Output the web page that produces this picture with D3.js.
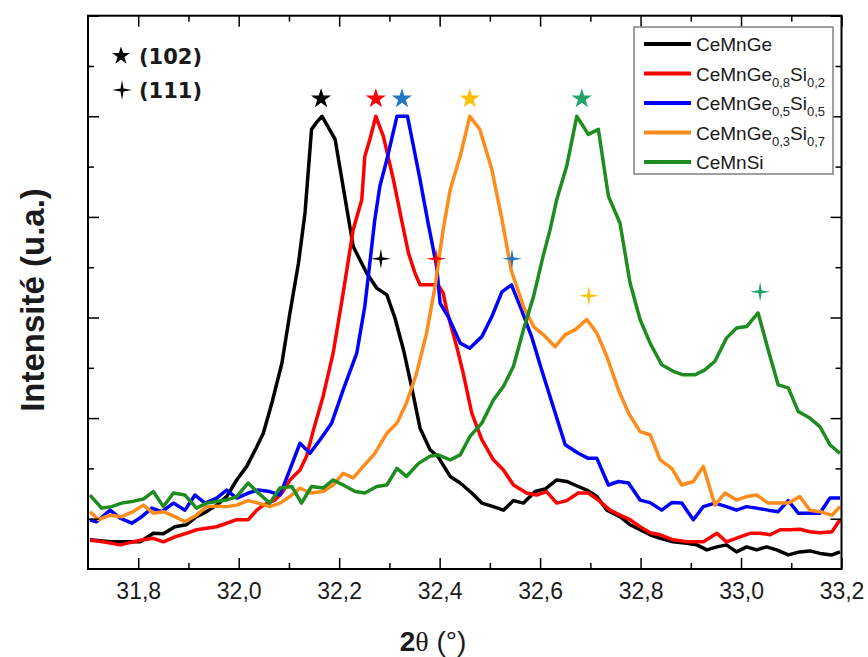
<!DOCTYPE html>
<html><head><meta charset="utf-8">
<script src="https://cdn.jsdelivr.net/npm/d3@7"></script>
<style>body{margin:0;background:#fff}svg{display:block}</style>
</head><body><svg id="c" width="868" height="657"></svg>
<script>
// ---- data (2θ in degrees, intensity in arbitrary units) ----
const xTicks = [31.8, 32.0, 32.2, 32.4, 32.6, 32.8, 33.0, 33.2];
const xMinorTicks = [31.9, 32.1, 32.3, 32.5, 32.7, 32.9, 33.1];
const yTicks = [100, 300, 500, 700, 900, 1100];
const yMinorTicks = [200, 400, 600, 800, 1000];
const seriesNames = ["CeMnGe", "CeMnGe0,8Si0,2", "CeMnGe0,5Si0,5", "CeMnGe0,3Si0,7", "CeMnSi"];

const cemnge = [[31.704,58],[31.744,54],[31.804,54],[31.830,71],[31.850,70],[31.873,84],[31.896,88],[31.916,104],[31.936,114],[31.956,127],[31.976,144],[31.996,177],[32.016,204],[32.036,243],[32.049,270],[32.066,330],[32.086,409],[32.102,509],[32.119,608],[32.132,708],[32.145,874],[32.155,888],[32.166,900],[32.192,854],[32.228,641],[32.255,588],[32.275,558],[32.295,545],[32.311,499],[32.328,436],[32.344,363],[32.361,280],[32.381,237],[32.397,223],[32.421,184],[32.441,171],[32.464,151],[32.484,131],[32.507,124],[32.527,117],[32.547,136],[32.567,131],[32.590,154],[32.610,159],[32.633,177],[32.653,174],[32.676,164],[32.693,157],[32.713,144],[32.733,117],[32.759,104],[32.779,88],[32.799,78],[32.819,68],[32.839,61],[32.865,54],[32.892,51],[32.912,48],[32.932,38],[32.952,44],[32.971,48],[32.991,34],[33.011,44],[33.031,38],[33.051,44],[33.071,38],[33.094,28],[33.117,34],[33.137,36],[33.157,31],[33.181,28],[33.197,34]];
const ge08si02 = [[31.704,57],[31.730,54],[31.764,48],[31.790,54],[31.810,58],[31.830,61],[31.850,54],[31.873,64],[31.896,71],[31.916,78],[31.936,81],[31.956,84],[31.976,91],[31.996,98],[32.019,98],[32.036,117],[32.049,127],[32.072,137],[32.086,151],[32.102,177],[32.122,197],[32.135,224],[32.149,277],[32.168,343],[32.188,429],[32.208,549],[32.228,675],[32.245,734],[32.251,820],[32.261,854],[32.273,900],[32.288,860],[32.308,774],[32.324,695],[32.338,628],[32.351,588],[32.361,565],[32.377,565],[32.397,565],[32.407,549],[32.414,515],[32.434,442],[32.447,389],[32.464,310],[32.484,257],[32.507,217],[32.527,197],[32.547,167],[32.573,151],[32.593,147],[32.613,154],[32.633,131],[32.653,136],[32.676,151],[32.696,151],[32.716,137],[32.739,117],[32.759,107],[32.779,98],[32.799,84],[32.819,72],[32.839,68],[32.865,58],[32.892,54],[32.925,54],[32.952,71],[32.971,54],[32.998,64],[33.018,71],[33.038,71],[33.058,68],[33.078,78],[33.098,78],[33.117,79],[33.137,74],[33.157,72],[33.181,74],[33.197,98]];
const ge05si05 = [[31.704,98],[31.717,94],[31.744,117],[31.764,101],[31.787,91],[31.807,104],[31.827,121],[31.847,114],[31.870,131],[31.893,117],[31.913,147],[31.933,131],[31.956,141],[31.976,157],[31.996,141],[32.019,151],[32.039,157],[32.062,154],[32.082,147],[32.099,190],[32.122,250],[32.142,230],[32.162,257],[32.185,290],[32.208,356],[32.235,429],[32.251,522],[32.261,608],[32.271,695],[32.281,761],[32.295,814],[32.315,900],[32.336,900],[32.348,840],[32.361,774],[32.377,688],[32.394,602],[32.401,528],[32.417,502],[32.441,449],[32.460,439],[32.484,462],[32.504,502],[32.524,551],[32.543,565],[32.563,515],[32.583,462],[32.603,396],[32.626,323],[32.650,247],[32.676,230],[32.696,220],[32.713,220],[32.736,167],[32.756,174],[32.776,171],[32.799,137],[32.819,132],[32.842,117],[32.862,132],[32.882,131],[32.905,98],[32.925,124],[32.948,131],[32.971,124],[32.991,117],[33.011,124],[33.031,121],[33.054,117],[33.074,114],[33.094,136],[33.114,111],[33.137,111],[33.157,111],[33.177,141],[33.197,141]];
const ge03si07 = [[31.704,114],[31.721,98],[31.744,107],[31.767,104],[31.790,114],[31.810,127],[31.830,111],[31.850,114],[31.873,104],[31.893,94],[31.916,107],[31.936,124],[31.956,125],[31.976,124],[31.996,127],[32.019,136],[32.039,131],[32.062,124],[32.082,131],[32.102,144],[32.122,161],[32.142,151],[32.168,154],[32.188,167],[32.208,190],[32.228,181],[32.248,204],[32.271,230],[32.295,270],[32.315,290],[32.334,330],[32.354,389],[32.374,469],[32.391,562],[32.407,675],[32.421,754],[32.441,821],[32.460,900],[32.480,874],[32.504,794],[32.524,695],[32.543,592],[32.567,522],[32.587,482],[32.606,466],[32.630,442],[32.650,466],[32.670,476],[32.693,496],[32.713,469],[32.733,422],[32.756,356],[32.776,310],[32.799,273],[32.819,267],[32.839,217],[32.862,200],[32.882,167],[32.905,174],[32.925,204],[32.948,127],[32.968,151],[32.991,137],[33.011,144],[33.031,147],[33.054,131],[33.074,131],[33.094,131],[33.117,144],[33.137,117],[33.157,114],[33.181,107],[33.197,124]];
const cemnsi = [[31.704,147],[31.727,121],[31.747,124],[31.767,131],[31.787,134],[31.810,139],[31.830,154],[31.850,124],[31.870,151],[31.893,147],[31.916,121],[31.936,131],[31.956,134],[31.976,137],[31.996,144],[32.019,171],[32.039,151],[32.062,131],[32.082,161],[32.106,164],[32.125,131],[32.145,164],[32.168,161],[32.188,177],[32.208,167],[32.232,154],[32.251,151],[32.275,164],[32.295,167],[32.315,200],[32.334,184],[32.358,210],[32.381,224],[32.397,227],[32.421,217],[32.441,227],[32.460,263],[32.484,290],[32.507,336],[32.527,363],[32.547,403],[32.567,476],[32.587,542],[32.606,622],[32.620,675],[32.633,734],[32.653,801],[32.673,900],[32.696,864],[32.716,874],[32.736,741],[32.759,688],[32.779,569],[32.799,496],[32.819,449],[32.842,406],[32.865,393],[32.885,386],[32.908,386],[32.928,396],[32.948,413],[32.971,459],[32.991,479],[33.011,482],[33.034,509],[33.054,436],[33.074,366],[33.094,360],[33.114,313],[33.137,300],[33.157,283],[33.177,247],[33.197,230]];

// (102) and (111) reflection markers [2θ, intensity]
const peaks102 = [[32.164,937],[32.273,937],[32.325,937],[32.460,937],[32.683,937]];
const peaks111 = [[32.283,617],[32.393,617],[32.544,617],[32.697,543],[33.038,551]];

const lineColors = ["#000000", "#ff0000", "#0000ff", "#ff8c1a", "#1e8c1e"];
const markColors = ["#000000", "#ff0000", "#1f78c1", "#ffc000", "#1fa56c"];
const allSeries = [cemnge, ge08si02, ge05si05, ge03si07, cemnsi];

// ---- layout ----
const svg = d3.select("#c");
const L = 88, R = 841.5, T = 15.7, B = 569;
const x = d3.scaleLinear().domain([31.7, 33.2]).range([L, R]);
const y = d3.scaleLinear().domain([0, 1100]).range([B, T]);
const FONT = "'Liberation Sans', Arial, sans-serif";

const plot = svg.append("g");
plot.append("clipPath").attr("id", "clip").append("rect")
  .attr("x", L).attr("y", T).attr("width", R - L).attr("height", B - T);

const line = d3.line().x(d => x(d[0])).y(d => y(d[1]));
const lines = plot.append("g").attr("clip-path", "url(#clip)");
allSeries.forEach((s, i) => {
  lines.append("path").datum(s).attr("d", line)
    .attr("fill", "none").attr("stroke", lineColors[i])
    .attr("stroke-width", 3.5).attr("stroke-linejoin", "round");
});

// markers
const starPath = d3.symbol(d3.symbolStar, 125)();
function sparklePath(r) {
  const w = r * 0.15;
  return `M0,${-r}L${w},${-w}L${r},0L${w},${w}L0,${r}L${-w},${w}L${-r},0L${-w},${-w}Z`;
}
peaks102.forEach((p, i) => {
  plot.append("path").attr("d", starPath)
    .attr("transform", `translate(${x(p[0])},${y(p[1]) + 1})`).attr("fill", markColors[i]);
});
peaks111.forEach((p, i) => {
  plot.append("path").attr("d", sparklePath(10))
    .attr("transform", `translate(${x(p[0])},${y(p[1])})`).attr("fill", markColors[i]);
});

// axes
const fmt = d => d3.format(".1f")(d).replace(".", ",");
function styleAxis(g) { g.select(".domain").remove(); g.selectAll("line").attr("stroke", "#000").attr("stroke-width", 1.5); }
svg.append("g").attr("transform", `translate(0,${B})`)
  .call(d3.axisBottom(x).tickValues(xTicks).tickSize(-11).tickPadding(14).tickFormat(fmt))
  .call(styleAxis)
  .call(g => g.selectAll("text").attr("font-family", FONT).attr("font-size", 23).attr("fill", "#1a1a1a"));
svg.append("g").attr("transform", `translate(0,${B})`)
  .call(d3.axisBottom(x).tickValues(xMinorTicks).tickSize(-6).tickFormat("")).call(styleAxis);
svg.append("g").attr("transform", `translate(0,${T})`)
  .call(d3.axisTop(x).tickValues(xTicks).tickSize(-11).tickFormat("")).call(styleAxis);
svg.append("g").attr("transform", `translate(0,${T})`)
  .call(d3.axisTop(x).tickValues(xMinorTicks).tickSize(-6).tickFormat("")).call(styleAxis);
svg.append("g").attr("transform", `translate(${L},0)`)
  .call(d3.axisLeft(y).tickValues(yTicks).tickSize(-11).tickFormat("")).call(styleAxis);
svg.append("g").attr("transform", `translate(${L},0)`)
  .call(d3.axisLeft(y).tickValues(yMinorTicks).tickSize(-6).tickFormat("")).call(styleAxis);
svg.append("g").attr("transform", `translate(${R},0)`)
  .call(d3.axisRight(y).tickValues(yTicks).tickSize(-11).tickFormat("")).call(styleAxis);
svg.append("g").attr("transform", `translate(${R},0)`)
  .call(d3.axisRight(y).tickValues(yMinorTicks).tickSize(-6).tickFormat("")).call(styleAxis);

svg.append("rect").attr("x", L).attr("y", T).attr("width", R - L).attr("height", B - T)
  .attr("fill", "none").attr("stroke", "#000").attr("stroke-width", 2);

// axis titles
const xt = svg.append("text").attr("x", 433).attr("y", 651).attr("text-anchor", "middle")
  .attr("font-family", FONT).attr("font-size", 28).attr("fill", "#1a1a1a");
xt.append("tspan").attr("font-weight", "bold").text("2");
xt.append("tspan").attr("font-family", "'Liberation Serif', serif").text("θ");
xt.append("tspan").text(" (°)");
svg.append("text").attr("transform", "translate(44,300) rotate(-90)").attr("text-anchor", "middle")
  .attr("font-family", FONT).attr("font-size", 33).attr("font-weight", "bold").attr("fill", "#1a1a1a")
  .text("Intensité (u.a.)");

// top-left marker legend
svg.append("path").attr("d", d3.symbol(d3.symbolStar, 100)()).attr("transform", "translate(121,56)").attr("fill", "#000");
svg.append("path").attr("d", sparklePath(10)).attr("transform", "translate(122,90)").attr("fill", "#000");
[["(102)", 64], ["(111)", 98]].forEach(([t, yy]) => {
  svg.append("text").attr("x", 139).attr("y", yy).attr("font-family", "'DejaVu Sans', sans-serif")
    .attr("font-size", 21).attr("font-weight", "bold").attr("fill", "#1a1a1a").text(t);
});

// series legend
const lg = svg.append("g");
lg.append("rect").attr("x", 634).attr("y", 27).attr("width", 199).attr("height", 147)
  .attr("fill", "#fff").attr("stroke", "#808080").attr("stroke-width", 1.5);
const subs = [null, ["0,8", "0,2"], ["0,5", "0,5"], ["0,3", "0,7"], null];
seriesNames.forEach((name, i) => {
  const cy = 44 + i * 29.5;
  lg.append("line").attr("x1", 644).attr("x2", 691).attr("y1", cy).attr("y2", cy)
    .attr("stroke", lineColors[i]).attr("stroke-width", 4);
  const t = lg.append("text").attr("x", 696).attr("y", cy + 7).attr("font-family", FONT)
    .attr("font-size", 19).attr("fill", "#1a1a1a");
  if (!subs[i]) { t.text(name); }
  else {
    t.append("tspan").text("CeMnGe");
    t.append("tspan").attr("font-size", 13).attr("dy", 6).text(subs[i][0]);
    t.append("tspan").attr("dy", -6).text("Si");
    t.append("tspan").attr("font-size", 13).attr("dy", 6).text(subs[i][1]);
  }
});
</script></body></html>
